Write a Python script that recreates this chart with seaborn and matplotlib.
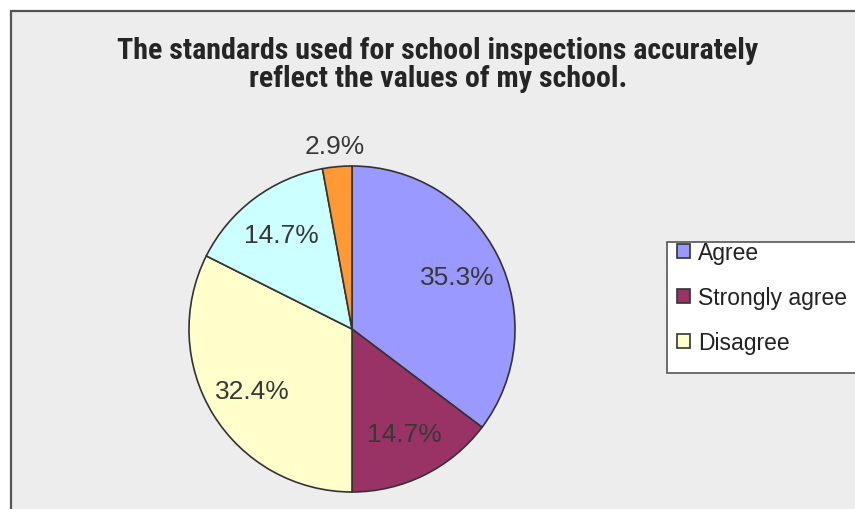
import matplotlib
matplotlib.use("Agg")
import matplotlib.pyplot as plt
import seaborn as sns
from matplotlib.patches import Rectangle
from matplotlib import font_manager

# Survey responses (percent of respondents)
categories = ["Agree", "Strongly agree", "Disagree", "Strongly disagree", "Don't know"]
shares = [35.3, 14.7, 32.4, 14.7, 2.9]
slice_colors = ["#9999FF", "#993366", "#FFFFCC", "#CCFFFF", "#FF9933"]
legend_entries = categories[:3]
title_lines = [
    "The standards used for school inspections accurately",
    "reflect the values of my school.",
]

sns.set_style("white")
plt.rcParams["font.family"] = ["Liberation Sans", "DejaVu Sans"]

installed = {f.name for f in font_manager.fontManager.ttflist}
title_family = next((f for f in ("Roboto Condensed", "Archivo Narrow", "PT Sans Narrow")
                     if f in installed), "Liberation Sans")

W, H = 855, 510
fig = plt.figure(figsize=(W / 100, H / 100), dpi=100)
fig.patch.set_facecolor("white")

# grey chart area with a dark frame
fig.add_artist(Rectangle((11 / W, -0.05), 1.1, (H - 12) / H + 0.05,
                         transform=fig.transFigure, facecolor="#EDEDED",
                         edgecolor="#555555", lw=1.6, zorder=-2))

# pie axes: square in pixels
cx, cy, r = 352, 330, 163
lim = 1.3
side = 2 * lim * r
ax = fig.add_axes([(cx - side / 2) / W, (H - cy - side / 2) / H, side / W, side / H])
ax.set_facecolor("none")

wedges, texts, autotexts = ax.pie(
    shares, colors=slice_colors, startangle=90, counterclock=False,
    autopct="%.1f%%", pctdistance=0.72,
    wedgeprops=dict(edgecolor="#333333", linewidth=1.2),
    textprops=dict(fontsize=19, color="#383838"),
)
# the thin last slice gets its label outside the pie
x, y = autotexts[-1].get_position()
k = 1.13 / 0.72
autotexts[-1].set_position((x * k, y * k))

ax.set_xlim(-lim, lim)
ax.set_ylim(-lim, lim)
ax.set_aspect("equal")
ax.axis("off")

# title, two centred lines
t1 = fig.text(438 / W, 1 - 59 / H, title_lines[0], ha="center", va="baseline",
              fontsize=19, fontweight="bold", family=title_family, color="#252525")
t2 = fig.text(438 / W, 1 - 87 / H, title_lines[1], ha="center", va="baseline",
              fontsize=19, fontweight="bold", family=title_family, color="#252525")
fig.canvas.draw()
wpx = t1.get_window_extent().width
scale = 643 / wpx
for t in (t1, t2):
    t.set_fontsize(19 * scale)

# legend box and entries
fig.add_artist(Rectangle((667 / W, 1 - 374 / H), (900 - 667) / W, (374 - 243) / H,
                         transform=fig.transFigure, facecolor="white",
                         edgecolor="#555555", lw=1.2, zorder=1))
leg = fig.legend(wedges[:3], legend_entries, loc="upper left",
                 bbox_to_anchor=(677 / W, 1 - 242 / H), frameon=False,
                 fontsize=16.5, handlelength=0.55, handleheight=0.55,
                 handletextpad=0.35, labelspacing=0.97, borderpad=0,
                 borderaxespad=0)
for txt in leg.get_texts():
    txt.set_color("#222222")
leg.set_zorder(5)

fig.savefig("out.png", dpi=100, facecolor="white")
